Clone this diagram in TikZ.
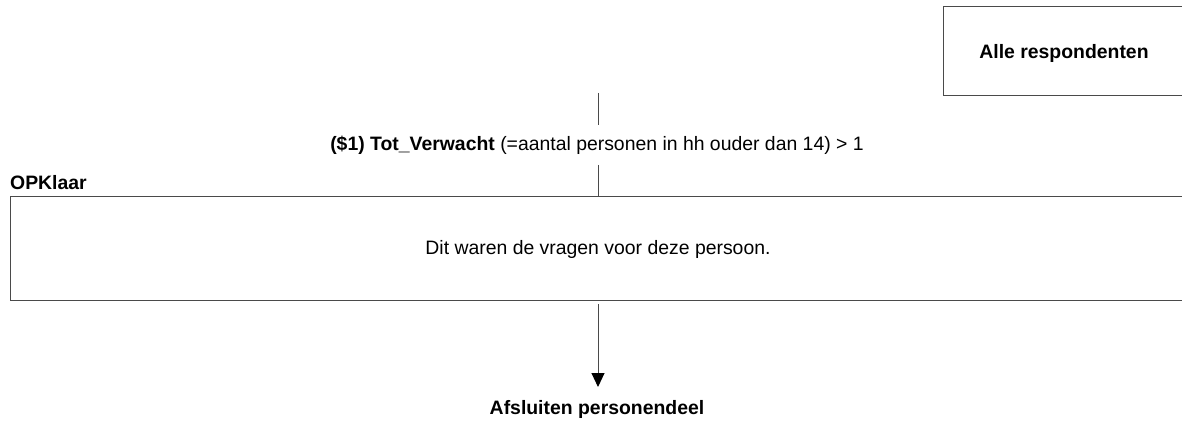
\documentclass[tikz,border=0pt]{standalone}
\usepackage{fontspec}
\setmainfont{Liberation Sans}
\usetikzlibrary{arrows.meta}
\definecolor{linecol}{HTML}{4A4A4A}
\tikzset{
  box/.style={draw=linecol, line width=1pt, inner sep=0pt},
  conn/.style={draw=linecol, line width=1pt},
  txt/.style={inner sep=0pt, font=\fontsize{19.4}{23}\selectfont},
  btxt/.style={inner sep=0pt, font=\fontsize{19.4}{23}\selectfont\bfseries},
  arr/.style={conn, -{Triangle[length=14pt, width=13pt, color=black]}}
}
\begin{document}
\begin{tikzpicture}[x=1pt, y=-1pt]
\useasboundingbox (0,0) rectangle (1182,430);
% top box
\draw[box] (1190,7) -- (943,7) -- (943,96) -- (1190,96);
\node[btxt] (alle) at (1064,53) {Alle respondenten};
\coordinate (c1) at (598,93);
\coordinate (c2) at (598,125);
\draw[conn] (c1) -- (c2);
\node[txt] (cond) at (597,145) {\textbf{(\$1) Tot\_Verwacht} (=aantal personen in hh ouder dan 14) > 1};
\coordinate (c3) at (598,165);
\coordinate (c4) at (598,197);
\draw[conn] (c3) -- (c4);
\node[btxt, anchor=base west] (opk) at (10,190) {OPKlaar};
% big box
\draw[box] (1190,197) -- (10,197) -- (10,300) -- (1190,300);
\node[txt] (q) at (598,249) {Dit waren de vragen voor deze persoon.};
\coordinate (a1) at (598,304);
\coordinate (a2) at (598,387);
\draw[arr] (a1) -- (a2);
\node[btxt] (afs) at (597,409) {Afsluiten personendeel};
\end{tikzpicture}
\end{document}
